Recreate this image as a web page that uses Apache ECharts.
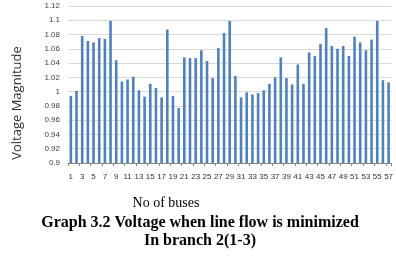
<!DOCTYPE html>
<html>
<head>
<meta charset="utf-8">
<script src="https://cdn.jsdelivr.net/npm/echarts@6/dist/echarts.min.js"></script>
<style>
  html, body { margin: 0; padding: 0; background: #fff; }
  #main { width: 396px; height: 258px; }
</style>
</head>
<body>
<div id="main"></div>
<script>
// bus numbers 1..57
var buses = [];
for (var i = 1; i <= 57; i++) buses.push(String(i));

// voltage magnitude per bus
var voltage = [
  0.994, 1.001, 1.078, 1.071, 1.069, 1.075, 1.074, 1.099, 1.044, 1.014,
  1.017, 1.021, 1.002, 0.993, 1.011, 1.005, 0.992, 1.087, 0.994, 0.977,
  1.048, 1.047, 1.047, 1.058, 1.043, 1.019, 1.061, 1.082, 1.099, 1.022,
  0.992, 0.999, 0.996, 0.998, 1.002, 1.011, 1.020, 1.048, 1.019, 1.010,
  1.038, 1.011, 1.055, 1.050, 1.067, 1.089, 1.064, 1.060, 1.064, 1.050,
  1.077, 1.069, 1.058, 1.073, 1.099, 1.016, 1.013
];

var chart = echarts.init(document.getElementById('main'));

var option = {
  backgroundColor: '#fff',
  animation: false,
  grid: { left: 68, right: 0, top: 6, height: 157 },
  title: [
    {
      text: 'No of buses',
      left: 161, top: 191, textAlign: 'center',
      textStyle: { fontFamily: 'Liberation Serif', fontWeight: 'normal', fontSize: 14, color: '#000' }
    },
    {
      text: 'Graph 3.2 Voltage when line flow is minimized',
      left: 195, top: 210, textAlign: 'center',
      textStyle: { fontFamily: 'Liberation Serif', fontWeight: 'bold', fontSize: 16, color: '#000' }
    },
    {
      text: 'In branch 2(1-3)',
      left: 195, top: 228, textAlign: 'center',
      textStyle: { fontFamily: 'Liberation Serif', fontWeight: 'bold', fontSize: 16, color: '#000' }
    }
  ],
  graphic: [{
    type: 'text',
    x: 17, y: 103,
    rotation: Math.PI / 2,
    style: {
      text: 'Voltage Magnitude',
      font: '13px "Open Sans"',
      fill: '#333',
      align: 'center',
      verticalAlign: 'middle'
    }
  }],
  xAxis: {
    type: 'category',
    data: buses,
    axisLine: { lineStyle: { color: '#868686', width: 1 } },
    axisTick: { show: true, length: 3, lineStyle: { color: '#868686' } },
    axisLabel: {
      interval: 1,
      fontSize: 8,
      margin: 10,
      color: '#333',
      fontFamily: 'Liberation Sans'
    }
  },
  yAxis: {
    type: 'value',
    min: 0.9,
    max: 1.12,
    interval: 0.02,
    axisLine: { show: false },
    axisTick: { show: false },
    splitLine: { lineStyle: { color: '#d9d9d9', width: 1 } },
    axisLabel: {
      fontSize: 8,
      margin: 8,
      color: '#404040',
      fontFamily: 'Liberation Sans',
      formatter: function (v) { return String(+v.toFixed(2)); }
    }
  },
  series: [{
    type: 'bar',
    data: voltage,
    barWidth: 2.6,
    itemStyle: { color: '#4f81bd' }
  }]
};

chart.setOption(option);
</script>
</body>
</html>
